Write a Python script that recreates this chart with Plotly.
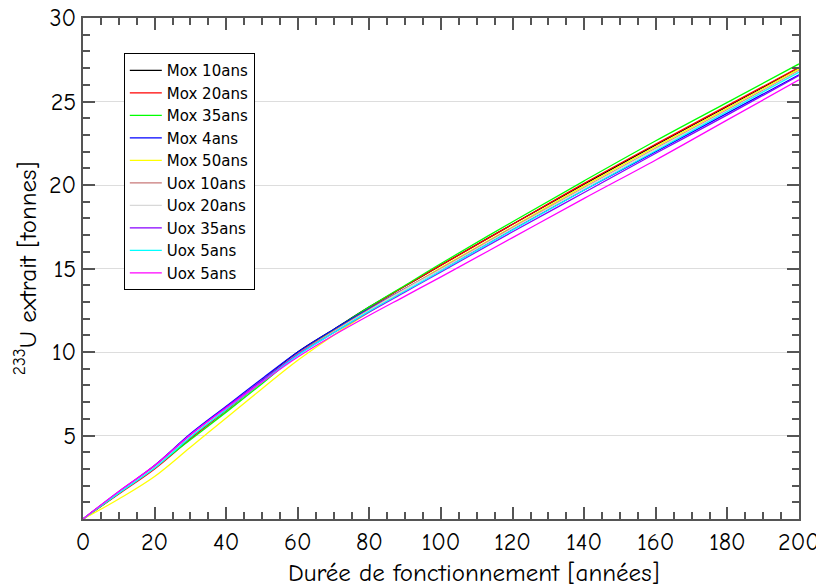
import plotly.graph_objects as go

years = [0, 10, 20, 30, 40, 50, 60, 70, 80, 90, 100, 120, 140, 160, 180, 200]

series_names = ["Mox 10ans", "Mox 20ans", "Mox 35ans", "Mox 4ans", "Mox 50ans",
                "Uox 10ans", "Uox 20ans", "Uox 35ans", "Uox 5ans", "Uox 5ans"]

mox_10 = [0, 1.55, 3.1, 4.9, 6.6, 8.3, 10.0, 11.35, 12.7, 13.95, 15.2, 17.65, 20.05, 22.4, 24.7, 27.0]
mox_20 = [0, 1.5, 3.0, 4.8, 6.5, 8.2, 9.9, 11.3, 12.65, 13.95, 15.2, 17.65, 20.1, 22.45, 24.75, 27.05]
mox_35 = [0, 1.55, 3.1, 4.75, 6.4, 8.1, 9.85, 11.3, 12.7, 14.0, 15.3, 17.8, 20.25, 22.65, 24.95, 27.25]
mox_4 = [0, 1.6, 3.2, 5.1, 6.75, 8.4, 10.0, 11.35, 12.6, 13.8, 14.95, 17.35, 19.7, 22.0, 24.3, 26.6]
mox_50 = [0, 1.2, 2.55, 4.3, 6.05, 7.8, 9.5, 11.0, 12.4, 13.75, 15.05, 17.5, 19.95, 22.3, 24.6, 26.95]
uox_10 = [0, 1.6, 3.15, 5.0, 6.65, 8.3, 9.9, 11.25, 12.55, 13.8, 15.0, 17.45, 19.85, 22.2, 24.5, 26.85]
uox_20 = [0, 1.6, 3.1, 4.95, 6.6, 8.25, 9.85, 11.2, 12.5, 13.75, 14.95, 17.4, 19.8, 22.15, 24.45, 26.8]
uox_35 = [0, 1.65, 3.2, 5.05, 6.7, 8.3, 9.85, 11.15, 12.4, 13.6, 14.8, 17.2, 19.55, 21.9, 24.2, 26.55]
uox_5a = [0, 1.55, 3.05, 4.9, 6.55, 8.2, 9.8, 11.15, 12.45, 13.65, 14.85, 17.3, 19.7, 22.05, 24.4, 26.75]
uox_5b = [0, 1.65, 3.2, 5.05, 6.65, 8.2, 9.7, 11.0, 12.2, 13.35, 14.5, 16.85, 19.2, 21.5, 23.9, 26.3]

all_series = [mox_10, mox_20, mox_35, mox_4, mox_50, uox_10, uox_20, uox_35, uox_5a, uox_5b]
colors = ["#000000", "#ff0000", "#00ff00", "#0000ff", "#ffff00",
          "#c87878", "#d8d8d8", "#8800ff", "#00ffff", "#ff00ff"]

x_ticks = [0, 20, 40, 60, 80, 100, 120, 140, 160, 180, 200]
y_ticks = [5, 10, 15, 20, 25, 30]

x_title = "Durée de fonctionnement [années]"
y_title = "<sup>233</sup>U extrait [tonnes]"

FONT = "Comic Sans MS, Comic Neue, DejaVu Sans, sans-serif"
LEGEND_FONT = "DejaVu Sans, sans-serif"

fig = go.Figure()
for name, vals, col in zip(series_names, all_series, colors):
    fig.add_trace(go.Scatter(x=years, y=vals, mode="lines", name=name,
                             line=dict(color=col, width=1.3, shape="spline", smoothing=1.0)))

axis_common = dict(
    showline=True, linecolor="#555555", linewidth=2, mirror="ticks",
    ticks="inside", ticklen=12, tickwidth=1.5, tickcolor="#555555",
    zeroline=False, automargin=False, ticklabeloverflow="allow",
    tickfont=dict(size=24, color="#000000", family=FONT),
)

fig.update_xaxes(range=[0, 200], tickvals=x_ticks, showgrid=False,
                 minor=dict(ticks="inside", ticklen=7, dtick=5, tick0=0, tickcolor="#555555", tickwidth=1.5),
                 **axis_common)
fig.update_yaxes(range=[0, 30], tickvals=y_ticks, showgrid=True, gridcolor="#dddddd", gridwidth=1,
                 minor=dict(ticks="inside", ticklen=7, dtick=1, tick0=0, tickcolor="#555555", tickwidth=1.5, showgrid=False),
                 **axis_common)

fig.add_annotation(text=x_title, xref="paper", yref="paper", x=0.545, y=-0.106,
                   xanchor="center", yanchor="middle", showarrow=False,
                   font=dict(size=25, family=FONT, color="#000"))
fig.add_annotation(text=y_title, xref="paper", yref="paper", x=-0.08, y=0.5,
                   xanchor="center", yanchor="middle", showarrow=False, textangle=-90,
                   font=dict(size=25, family=FONT, color="#000"))

fig.update_layout(
    width=824, height=588,
    margin=dict(l=75, r=33, t=10, b=77),
    paper_bgcolor="white", plot_bgcolor="white",
    font=dict(family=FONT, color="#000"),
    legend=dict(x=0.057, y=0.93, xanchor="left", yanchor="top",
                bgcolor="white", bordercolor="#000000", borderwidth=1,
                font=dict(size=15, family=LEGEND_FONT), itemwidth=32, tracegroupgap=0),
    showlegend=True,
)

fig.write_html("out.html")
